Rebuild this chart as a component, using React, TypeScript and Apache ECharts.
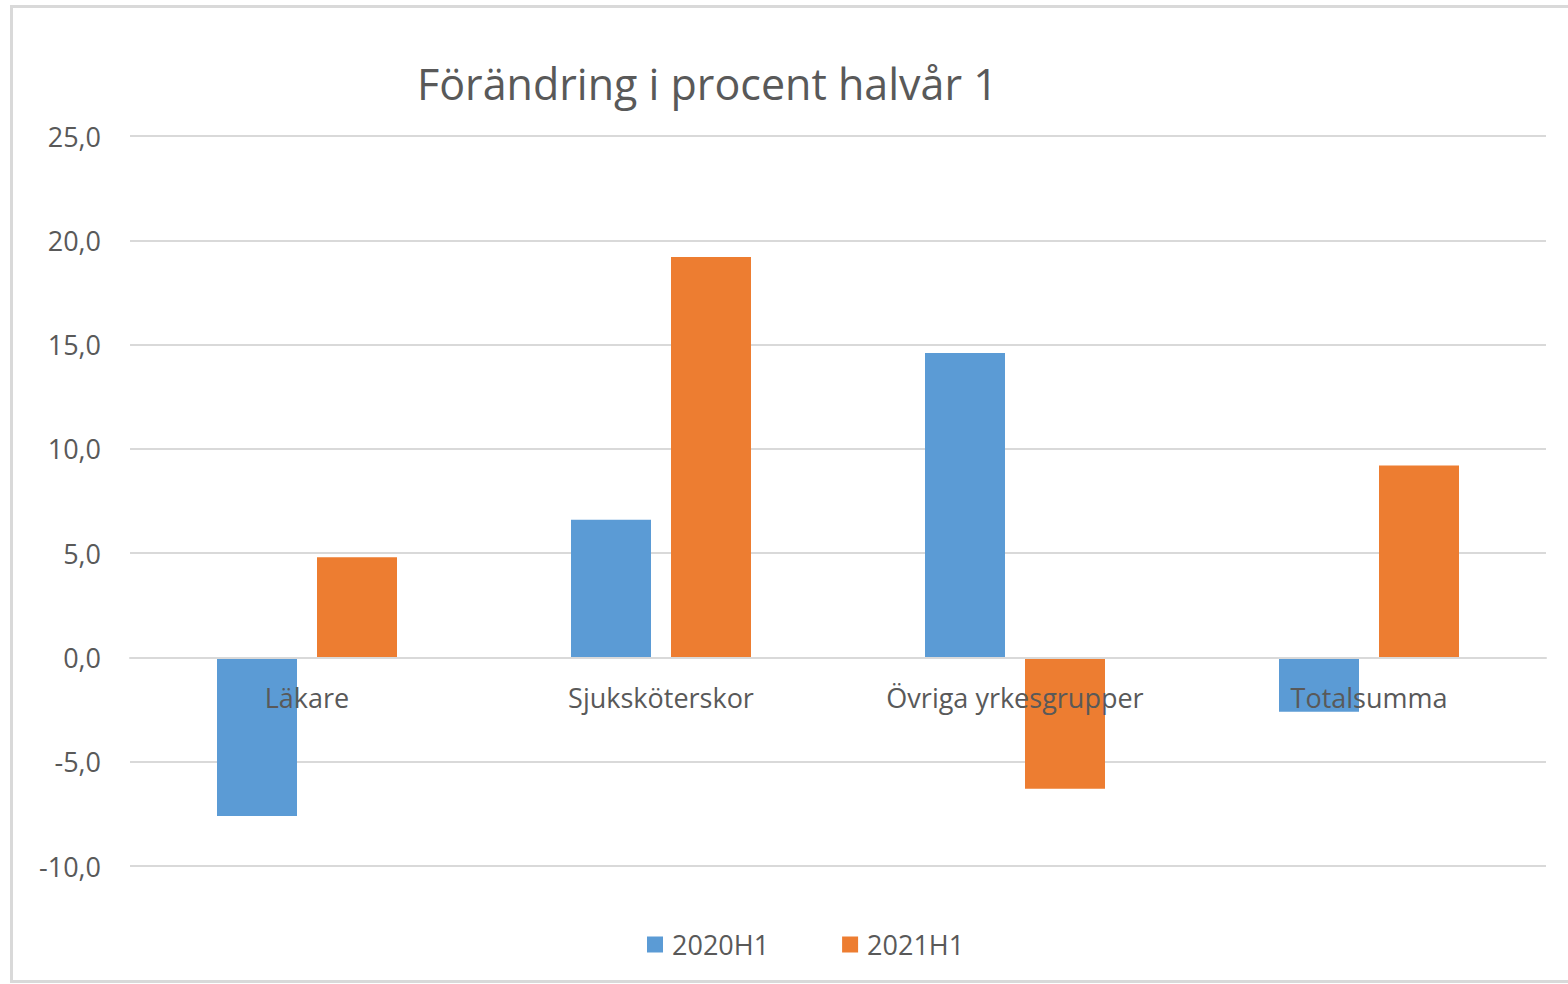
import React, { useEffect, useRef } from "react";
import * as echarts from "echarts";

const titleText = "Förändring i procent halvår 1";
const categories = ["Läkare", "Sjuksköterskor", "Övriga yrkesgrupper", "Totalsumma"];
const seriesNames = ["2020H1", "2021H1"];
const values2020 = [-7.6, 6.6, 14.6, -2.6];
const values2021 = [4.8, 19.2, -6.3, 9.2];
const yMin = -10;
const yMax = 25;
const yInterval = 5;

const FONT = "'Open Sans', 'Noto Sans', sans-serif";
const TEXT = "#595959";
const GRID = "#d9d9d9";

const GRID_TOP = 136;
const GRID_BOTTOM = 118;
const CHART_H = 984;

export default function App() {
  const ref = useRef<HTMLDivElement>(null);
  useEffect(() => {
    document.body.style.margin = "0";
    const chart = echarts.init(ref.current!, null, { renderer: "svg" });
    const plotH = CHART_H - GRID_TOP - GRID_BOTTOM;
    const zeroOffset = -(plotH * (0 - yMin)) / (yMax - yMin);
    chart.setOption({
      animation: false,
      backgroundColor: "#ffffff",
      textStyle: { fontFamily: FONT },
      title: {
        text: titleText,
        left: 417,
        top: 62,
        padding: 0,
        textStyle: { fontFamily: FONT, fontSize: 43, fontWeight: "normal", color: TEXT },
      },
      graphic: [
        {
          type: "rect",
          shape: { x: 11.5, y: 6.5, width: 1620, height: 975 },
          style: { fill: "none", stroke: GRID, lineWidth: 3 },
          silent: true,
        },
      ],
      legend: {
        data: seriesNames,
        left: 647,
        top: 931,
        icon: "rect",
        itemWidth: 16,
        itemHeight: 16,
        itemGap: 73,
        padding: 0,
        textStyle: { fontFamily: FONT, fontSize: 27, color: TEXT, padding: [0, 0, 0, 4] },
      },
      grid: { left: 130, right: 22, top: GRID_TOP, bottom: GRID_BOTTOM, containLabel: false },
      xAxis: {
        type: "category",
        data: categories,
        z: 10,
        offset: zeroOffset,
        axisLine: { show: true, onZero: false, lineStyle: { color: GRID, width: 2 } },
        axisTick: { show: false },
        axisLabel: { fontFamily: FONT, fontSize: 27, color: TEXT, margin: 27 },
        splitLine: { show: false },
      },
      yAxis: {
        type: "value",
        min: yMin,
        max: yMax,
        interval: yInterval,
        axisLine: { show: false },
        axisTick: { show: false },
        axisLabel: {
          fontFamily: FONT,
          fontSize: 27,
          color: TEXT,
          margin: 29,
          formatter: (v: number) => v.toFixed(1).replace(".", ","),
        },
        splitLine: { lineStyle: { color: GRID, width: 2 } },
      },
      series: [
        {
          name: seriesNames[0],
          type: "bar",
          data: values2020,
          barWidth: 80,
          barGap: "25%",
          itemStyle: { color: "#5B9BD5" },
        },
        {
          name: seriesNames[1],
          type: "bar",
          data: values2021,
          barWidth: 80,
          barGap: "25%",
          itemStyle: { color: "#ED7D31" },
        },
      ],
    });
    return () => chart.dispose();
  }, []);
  return <div ref={ref} style={{ width: 1568, height: 984 }} />;
}
